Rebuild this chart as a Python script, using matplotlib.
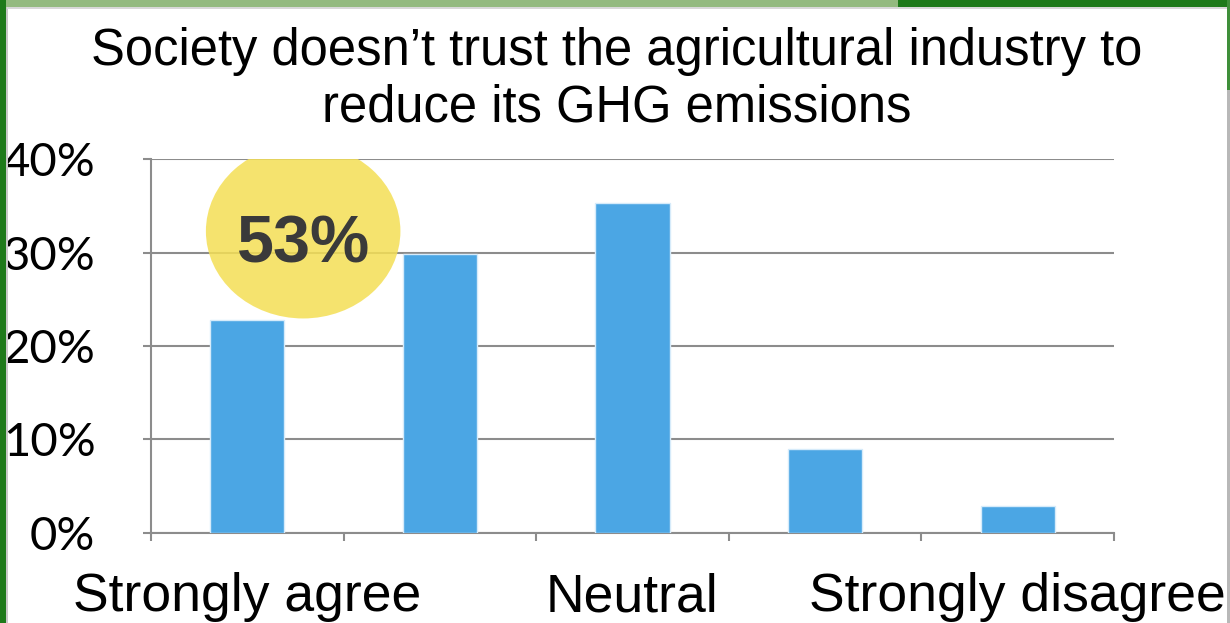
import matplotlib
matplotlib.use("Agg")
import matplotlib.pyplot as plt
from matplotlib.patches import Ellipse, Rectangle
from matplotlib.ticker import FixedLocator, NullFormatter

# Survey responses (% of respondents)
categories = ["Strongly agree", "Agree", "Neutral", "Disagree", "Strongly disagree"]
shares = [22.8, 29.9, 35.3, 9.0, 2.9]
shown_labels = ["Strongly agree", "", "Neutral", "", "Strongly disagree"]
y_ticks = [0, 10, 20, 30, 40]
y_tick_labels = ["0%", "10%", "20%", "30%", "40%"]
title_lines = ["Society doesn\u2019t trust the agricultural industry to",
               "reduce its GHG emissions"]

W, H = 1230, 623
fig = plt.figure(figsize=(W / 100, H / 100), dpi=100)
fig.patch.set_facecolor("white")

def px_rect(x0, y0, x1, y1, color, z=10):
    """Rectangle given in pixel coordinates measured from the top-left corner."""
    fig.patches.append(Rectangle((x0 / W, 1 - y1 / H), (x1 - x0) / W, (y1 - y0) / H,
                                 transform=fig.transFigure, facecolor=color,
                                 edgecolor="none", zorder=z))

# Slide frame: light/dark green header strip and dark green left edge
px_rect(0, 0, 898, 7, "#93BA7F")
px_rect(898, 0, W, 7, "#1E7A1A")
px_rect(0, 0, 6, H, "#1E7A1A")
px_rect(6, 7, 7.5, H, "#c8c8c8")
px_rect(7, 7, W - 3, 8.5, "#d8d8d8")
px_rect(W - 3, 0, W, 90, "#3f8f3a")
px_rect(W - 3, 90, W, H, "#b8b8b8")

ax = fig.add_axes([151 / W, 1 - 532.7 / H, (1114 - 151) / W, (532.7 - 159.3) / H])
ax.set_facecolor("none")

x = range(len(categories))
ax.bar(x, shares, width=0.385, color="#4BA6E4", edgecolor="#d6ebfa",
       linewidth=1.0, zorder=3)

ax.set_xlim(-0.5, len(categories) - 0.5)
ax.set_ylim(0, 40)

grid_color = "#8c8c8c"
ax.yaxis.set_major_locator(FixedLocator(y_ticks))
ax.set_yticklabels(y_tick_labels, family="Lato", fontsize=34, color="black")
ax.grid(axis="y", color=grid_color, linewidth=1.5, zorder=0)
ax.set_axisbelow(True)

ax.set_xticks(list(x))
ax.set_xticklabels(shown_labels, family="Liberation Sans", fontsize=38.5, color="black")
ax.xaxis.set_minor_locator(FixedLocator([i - 0.5 for i in range(len(categories) + 1)]))
ax.xaxis.set_minor_formatter(NullFormatter())
ax.tick_params(axis="x", which="major", length=0, pad=28.5)
ax.tick_params(axis="x", which="minor", length=6, width=1.5, color=grid_color, direction="out")
ax.tick_params(axis="y", length=6, width=1.5, color=grid_color, pad=34)
for lbl in ax.get_yticklabels():
    lbl.set_horizontalalignment("right")

for side in ("top", "right"):
    ax.spines[side].set_visible(False)
for side in ("left", "bottom"):
    ax.spines[side].set_color(grid_color)
    ax.spines[side].set_linewidth(1.5)

# Highlight bubble with combined agreement share
agree_total = shares[0] + shares[1]
ax.add_patch(Ellipse((0.29, 32.3), 1.01, 18.7, facecolor="#F4DF55", alpha=0.85,
                     edgecolor="none", zorder=4))
ax.text(0.29, 30.8, f"{round(agree_total)}%", ha="center", va="center",
        family="Liberation Sans", fontweight="bold", fontsize=48, color="#3a3a3a", zorder=5)

fig.text(617 / W, 1 - 65 / H, title_lines[0], ha="center", va="baseline",
         family="Liberation Sans", fontsize=36.5, color="black")
fig.text(617 / W, 1 - 122 / H, title_lines[1], ha="center", va="baseline",
         family="Liberation Sans", fontsize=36.5, color="black")

fig.savefig("out.png", dpi=100)
